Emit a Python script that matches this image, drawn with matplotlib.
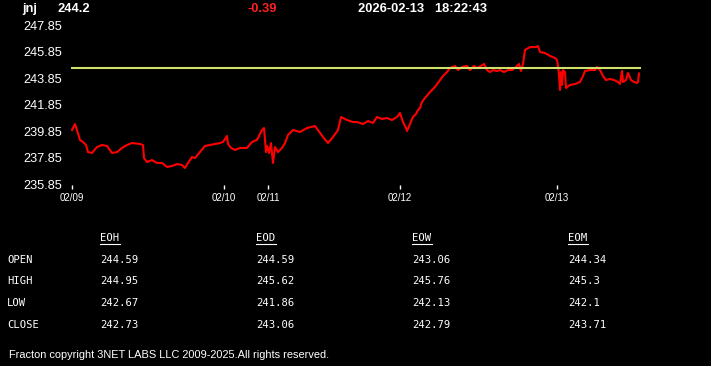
#!/usr/bin/env python

import matplotlib
matplotlib.use('Agg')

import matplotlib.pyplot as plt
from matplotlib.lines import Line2D

################# quote header ###############################################
Symbol = 'jnj'
Last = '244.2'
Change = '-0.39'
Stamp = '2026-02-13   18:22:43'
RefLevel = 244.59

################# intraday series (bar index, price) #########################
Idx = [0, 3, 5, 8, 11, 14, 16, 20, 25, 30, 35, 40, 45, 50, 55, 60, 68, 71, 72,
       75, 80, 85, 90, 95, 100, 105, 110, 113, 116, 120, 123, 128, 133, 138,
       143, 148, 151, 155, 156, 159, 163, 168, 175, 180, 185, 190, 192, 194,
       195, 197, 199, 201, 203, 206, 210, 213, 216, 221, 228, 235, 243, 246,
       251, 256, 261, 266, 269, 275, 281, 285, 291, 296, 301, 305, 310, 315,
       320, 325, 328, 331, 334, 335, 338, 341, 344, 346, 348, 350, 353, 358,
       363, 368, 371, 375, 378, 383, 386, 390, 395, 398, 402, 405, 409, 412,
       415, 418, 421, 425, 428, 432, 436, 440, 444, 447, 449, 451, 453, 458,
       464, 466, 468, 473, 478, 483, 485, 486, 487, 488, 489, 490, 491, 493,
       494, 498, 503, 508, 511, 513, 518, 523, 525, 528, 531, 534, 538, 542,
       546, 548, 550, 551, 554, 556, 559, 562, 565, 566, 567]
Price = [239.95, 240.40, 239.95, 239.20, 239.05, 238.82, 238.29, 238.22, 238.67,
         238.82, 238.75, 238.22, 238.29, 238.60, 238.82, 238.97, 238.90, 238.82,
         237.84, 237.54, 237.69, 237.47, 237.47, 237.17, 237.24, 237.39, 237.32,
         237.09, 237.47, 237.92, 237.84, 238.29, 238.75, 238.82, 238.90, 238.97,
         239.05, 239.50, 238.90, 238.60, 238.45, 238.60, 238.60, 239.05, 239.20,
         239.95, 240.10, 238.29, 238.75, 238.22, 238.97, 237.47, 238.67, 238.29,
         238.60, 238.97, 239.57, 239.95, 239.80, 240.10, 240.25, 239.95, 239.42,
         238.97, 239.42, 239.95, 240.93, 240.70, 240.55, 240.55, 240.40, 240.63,
         240.48, 240.93, 240.78, 240.85, 240.70, 240.93, 241.23, 240.55, 240.10,
         239.87, 240.40, 240.93, 241.15, 241.45, 241.61, 242.06, 242.36, 242.81,
         243.19, 243.71, 244.01, 244.31, 244.61, 244.77, 244.46, 244.69, 244.77,
         244.46, 244.77, 244.61, 244.77, 244.92, 244.46, 244.31, 244.46, 244.39,
         244.46, 244.31, 244.46, 244.46, 244.69, 244.92, 244.39, 244.92, 245.97,
         246.19, 246.19, 246.27, 245.82, 245.74, 245.52, 245.37, 245.22, 244.77,
         244.09, 242.96, 244.31, 243.34, 244.46, 244.31, 243.11, 243.34, 243.41,
         243.56, 244.01, 244.39, 244.46, 244.46, 244.69, 244.46, 244.01, 243.71,
         243.79, 243.71, 243.56, 243.41, 244.39, 243.56, 243.71, 244.24, 243.71,
         243.56, 243.49, 243.56, 244.20]

DayTicks = [0, 152, 196, 328, 485]
DayLabels = ['02/09', '02/10', '02/11', '02/12', '02/13']
YTicks = [235.85, 237.85, 239.85, 241.85, 243.85, 245.85, 247.85]

################# summary table ##############################################
Columns = ['EOH', 'EOD', 'EOW', 'EOM']
Rows = ['OPEN', 'HIGH', 'LOW', 'CLOSE']
OpenVals = ['244.59', '244.59', '243.06', '244.34']
HighVals = ['244.95', '245.62', '245.76', '245.3']
LowVals = ['242.67', '241.86', '242.13', '242.1']
CloseVals = ['242.73', '243.06', '242.79', '243.71']

W, H = 711.0, 366.0

fig = plt.figure(figsize=(W / 100, H / 100), dpi=100, facecolor='black')

# chart area, placed in pixels
ax = fig.add_axes([70 / W, (H - 184.5) / H, 572 / W, 159.5 / H])
ax.set_facecolor('black')
ax.plot(Idx, Price, color='#ff0000', linewidth=1.5)
ax.plot([0, 568], [RefLevel, RefLevel], color='#d2e06c', linewidth=1.5)
ax.set_xlim(-2, 570)
ax.set_ylim(235.85, 247.85)
for s in ax.spines.values():
    s.set_visible(False)
ax.set_yticks(YTicks)
ax.set_yticklabels(['{0:.2f}'.format(v) for v in YTicks])
ax.set_xticks(DayTicks)
ax.set_xticklabels(DayLabels)
ax.tick_params(axis='y', length=0, pad=5.8, labelcolor='white', labelsize=9.2)
ax.tick_params(axis='x', length=3, width=1, color='white', pad=3,
               labelcolor='white', labelsize=7)
for t in ax.get_yticklabels() + ax.get_xticklabels():
    t.set_fontfamily('Liberation Sans')


def px(x, y):
    return x / W, 1 - y / H

# header line
hdr = dict(color='white', fontsize=9.3, fontweight='bold', family='Liberation Sans', va='center')
fig.text(*px(22, 9), Symbol, **hdr)
fig.text(*px(57, 9), Last, **hdr)
fig.text(*px(247, 9), Change, **dict(hdr, color='#ff2020'))
fig.text(*px(358, 9), Stamp, **hdr)

# table
mono = dict(color='white', fontsize=7.6, family='DejaVu Sans Mono', va='center')
colx = [100, 256, 412, 568]
rowy = [260, 281, 303, 325]
for c, name in enumerate(Columns):
    t = fig.text(*px(colx[c], 238), name, **mono)
    fig.add_artist(Line2D([colx[c] / W, (colx[c] + 20) / W],
                          [1 - 243.5 / H, 1 - 243.5 / H],
                          color='white', linewidth=0.8))
table = [OpenVals, HighVals, LowVals, CloseVals]
for r, name in enumerate(Rows):
    fig.text(*px(7, rowy[r]), name, **mono)
    for c in range(len(Columns)):
        fig.text(*px(colx[c], rowy[r]), table[r][c], **mono)

fig.text(*px(9, 355), 'Fracton copyright 3NET LABS LLC 2009-2025.All rights reserved.',
         color='white', fontsize=7.95, family='Liberation Sans', va='center')

plt.savefig('out.png', dpi=100, facecolor='black')
